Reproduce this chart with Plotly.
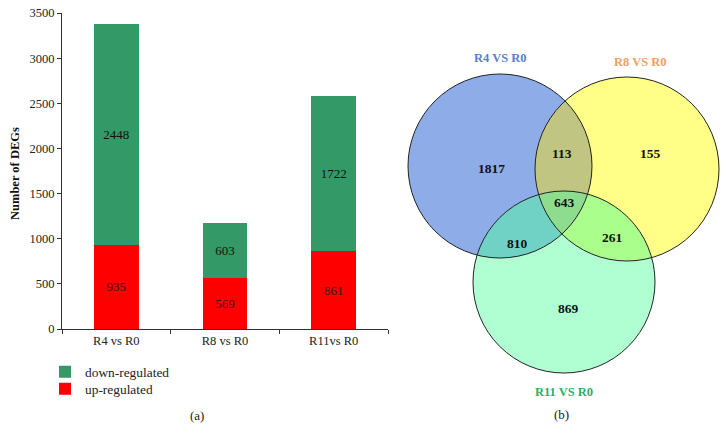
import numpy as np
import plotly.graph_objects as go

# ---------------- data ----------------
categories = ["R4 vs R0", "R8 vs R0", "R11vs R0"]
up_regulated = [935, 569, 861]
down_regulated = [2448, 603, 1722]
y_ticks = [0, 500, 1000, 1500, 2000, 2500, 3000, 3500]

venn_sets = ["R4 VS R0", "R8 VS R0", "R11 VS R0"]
venn_regions = ["R4", "R8", "R11", "R4&R8", "R4&R11", "R8&R11", "R4&R8&R11"]
venn_counts = [1817, 155, 869, 113, 810, 261, 643]

# ---------------- style / layout ----------------
W, H = 728, 441
SERIF = "Liberation Serif"
GREEN = "#339966"
RED = "#ff0000"

# venn circle geometry (pixel space of right panel)
circles = {"R4": (500, 166, 92), "R8": (627, 169, 92), "R11": (564, 282, 91)}
region_colors = {
    "R4": "#8eace8", "R8": "#ffff88", "R11": "#b0ffd2",
    "R4&R8": "#c0c682", "R4&R11": "#70d2c4", "R8&R11": "#aaff8c",
    "R4&R8&R11": "#8edc8e",
}
region_label_pos = {
    "R4": (491, 168), "R8": (650, 153), "R11": (568, 308),
    "R4&R8": (562, 153), "R4&R11": (517, 243), "R8&R11": (612, 237),
    "R4&R8&R11": (564, 202),
}
set_label_pos = [(500, 58), (640, 62), (564, 392)]
set_label_colors = ["#5a80c8", "#f0a066", "#2eae66"]


def px_x(p):
    return p / W


def px_y(p):
    return 1 - p / H


fig = go.Figure()

fig.add_trace(go.Bar(
    x=categories, y=up_regulated, name="up-regulated", legend="legend2",
    marker=dict(color=RED, line=dict(width=0)), width=0.41,
    text=up_regulated, textposition="inside", insidetextanchor="middle",
    textangle=0, constraintext="none",
    textfont=dict(family=SERIF, size=13, color="#331111"),
    xaxis="x", yaxis="y",
))
fig.add_trace(go.Bar(
    x=categories, y=down_regulated, name="down-regulated", legend="legend",
    marker=dict(color=GREEN, line=dict(width=0)), width=0.41,
    text=down_regulated, textposition="inside", insidetextanchor="middle",
    textangle=0, constraintext="none",
    textfont=dict(family=SERIF, size=13, color="#111111"),
    xaxis="x", yaxis="y",
))

# invisible trace to anchor the venn axes
fig.add_trace(go.Scatter(x=[400, 728], y=[0, 441], mode="markers",
                         marker=dict(opacity=0), showlegend=False,
                         hoverinfo="skip", xaxis="x2", yaxis="y2"))

shapes = []


def region_path(keys, n=720):
    pts = []
    t = np.linspace(0, 2 * np.pi, n, endpoint=False)
    for k in keys:
        cx, cy, r = circles[k]
        xs = cx + r * np.cos(t)
        ys = cy + r * np.sin(t)
        ok = np.ones_like(xs, dtype=bool)
        for o in keys:
            if o == k:
                continue
            ox, oy, orr = circles[o]
            ok &= (xs - ox) ** 2 + (ys - oy) ** 2 <= orr ** 2 + 1e-6
        pts += list(zip(xs[ok], ys[ok]))
    pts = np.array(pts)
    c = pts.mean(axis=0)
    ang = np.arctan2(pts[:, 1] - c[1], pts[:, 0] - c[0])
    pts = pts[np.argsort(ang)]
    return "M " + " L ".join(f"{x:.2f},{y:.2f}" for x, y in pts) + " Z"


# full discs
for k in ["R4", "R8", "R11"]:
    cx, cy, r = circles[k]
    shapes.append(dict(type="circle", xref="x2", yref="y2",
                       x0=cx - r, x1=cx + r, y0=cy - r, y1=cy + r,
                       fillcolor=region_colors[k], line=dict(width=0)))
# overlaps
for name in ["R4&R8", "R4&R11", "R8&R11", "R4&R8&R11"]:
    keys = name.split("&")
    shapes.append(dict(type="path", xref="x2", yref="y2",
                       path=region_path(keys),
                       fillcolor=region_colors[name], line=dict(width=0)))
# outlines
for k in ["R4", "R8", "R11"]:
    cx, cy, r = circles[k]
    shapes.append(dict(type="circle", xref="x2", yref="y2",
                       x0=cx - r, x1=cx + r, y0=cy - r, y1=cy + r,
                       fillcolor="rgba(0,0,0,0)",
                       line=dict(color="#222222", width=1)))

annotations = []
for name, cnt in zip(venn_regions, venn_counts):
    x, y = region_label_pos[name]
    annotations.append(dict(x=x, y=y, xref="x2", yref="y2", text=f"<b>{cnt}</b>",
                            showarrow=False, xanchor="center", yanchor="middle",
                            font=dict(family=SERIF, size=13.5, color="#111111")))
for lab, (x, y), col in zip(venn_sets, set_label_pos, set_label_colors):
    annotations.append(dict(x=x, y=y, xref="x2", yref="y2", text=f"<b>{lab}</b>",
                            showarrow=False, xanchor="center", yanchor="middle",
                            font=dict(family=SERIF, size=12.5, color=col)))

annotations.append(dict(x=px_x(15), y=px_y(174), xref="paper", yref="paper",
                        text="<b>Number of DEGs</b>", textangle=-90, showarrow=False,
                        xanchor="center", yanchor="middle",
                        font=dict(family=SERIF, size=12.5, color="#111111")))
annotations.append(dict(x=px_x(197), y=px_y(415), xref="paper", yref="paper",
                        text="(a)", showarrow=False,
                        xanchor="center", yanchor="middle",
                        font=dict(family=SERIF, size=13, color="#222222")))
annotations.append(dict(x=px_x(561), y=px_y(414), xref="paper", yref="paper",
                        text="(b)", showarrow=False,
                        xanchor="center", yanchor="middle",
                        font=dict(family=SERIF, size=13, color="#222222")))

legend_common = dict(xanchor="left", yanchor="middle", bgcolor="rgba(0,0,0,0)",
                     font=dict(family=SERIF, size=13.4, color="#222222"),
                     itemwidth=30)

fig.update_layout(
    width=W, height=H,
    margin=dict(l=0, r=0, t=0, b=0),
    paper_bgcolor="white", plot_bgcolor="rgba(0,0,0,0)",
    barmode="stack", bargap=0.59,
    font=dict(family=SERIF, size=12.5, color="#222222"),
    xaxis=dict(domain=[px_x(62), px_x(388)], anchor="y",
               type="category", range=[-0.5, 2.5],
               showline=True, linecolor="#333333", linewidth=1,
               ticks="outside", tickson="boundaries", ticklen=4,
               tickcolor="#333333", showgrid=False, automargin=False,
               tickfont=dict(family=SERIF, size=12.5, color="#222222")),
    yaxis=dict(domain=[px_y(329), px_y(13)], anchor="x",
               range=[0, 3500], tickvals=y_ticks,
               showline=True, linecolor="#333333", linewidth=1,
               ticks="outside", ticklen=4, tickcolor="#333333",
               showgrid=False, zeroline=False, automargin=False,
               tickfont=dict(family=SERIF, size=12.5, color="#222222")),
    xaxis2=dict(domain=[px_x(400), 1], anchor="y2", range=[400, 728],
                visible=False, showgrid=False, zeroline=False),
    yaxis2=dict(domain=[0, 1], anchor="x2", range=[441, 0],
                visible=False, showgrid=False, zeroline=False),
    showlegend=True,
    legend=dict(x=px_x(45), y=px_y(372), **legend_common),
    legend2=dict(x=px_x(45), y=px_y(389), **legend_common),
    shapes=shapes,
    annotations=annotations,
)

fig.write_html("out.html",
               config={"displayModeBar": False},
               post_script="document.body.style.margin='0px';"
                           "document.body.style.overflow='hidden';")
